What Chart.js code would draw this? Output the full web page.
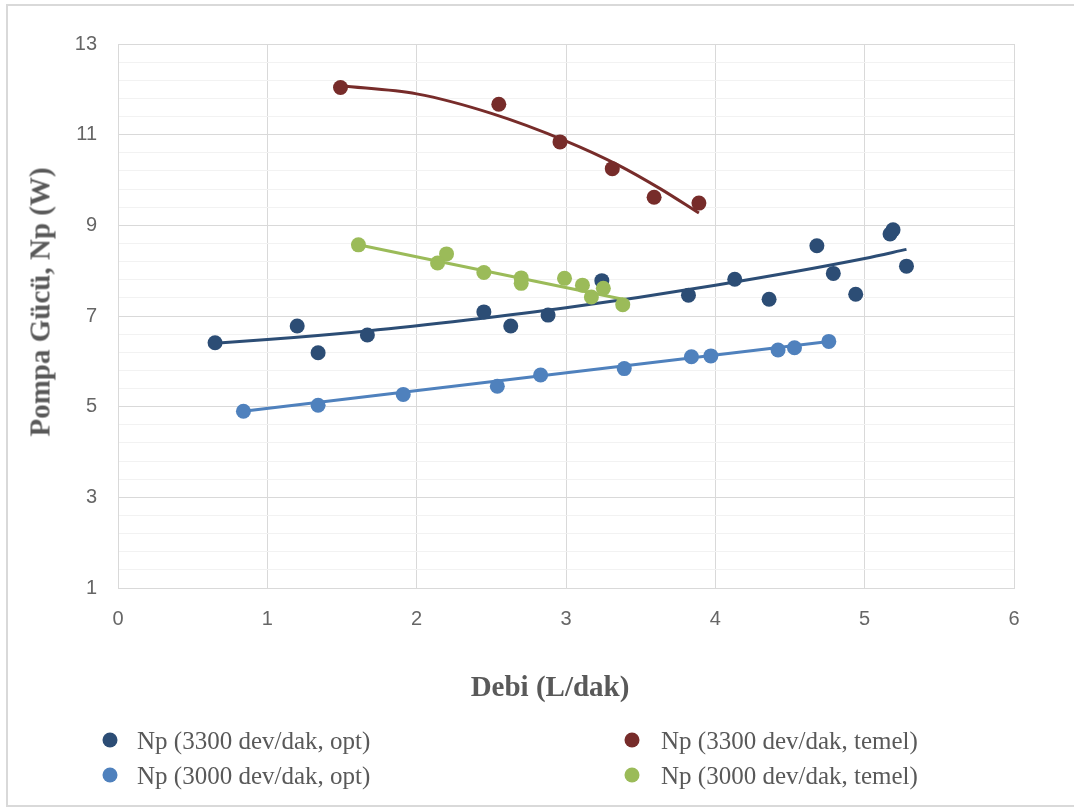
<!DOCTYPE html>
<html>
<head>
<meta charset="utf-8">
<script src="https://cdn.jsdelivr.net/npm/chart.js@4"></script>
<style>
  html, body { margin: 0; padding: 0; background: #ffffff; }
  #wrap { position: relative; width: 1074px; height: 808px; overflow: hidden; background: #ffffff; }
  #frame { position: absolute; left: 6px; top: 4px; width: 1100px; height: 803px; box-sizing: border-box; border: 2px solid #d9d9d9; }
  #c { position: absolute; left: 0; top: 0; }
  .title { position: absolute; font-family: "Liberation Serif", "Times New Roman", serif; font-weight: bold; font-size: 29px; color: #595959; white-space: nowrap; line-height: 1; }
  #ytitle { left: 40px; top: 302px; transform: translate(-50%, -50%) rotate(-90deg); }
  #xtitle { left: 550px; top: 686px; transform: translate(-50%, -50%); }
  .leg { position: absolute; font-family: "Liberation Serif", "Times New Roman", serif; font-size: 25px; color: #595959; white-space: nowrap; line-height: 1; transform: translateY(-50%); }
  .dot { position: absolute; width: 15px; height: 15px; border-radius: 50%; transform: translate(-50%, -50%); }
</style>
</head>
<body>
<div id="wrap">
  <div id="frame"></div>
  <canvas id="c" width="1074" height="808"></canvas>
  <div class="title" id="ytitle">Pompa Gücü, Np (W)</div>
  <div class="title" id="xtitle">Debi (L/dak)</div>
  <div id="legend"></div>
</div>
<script>
// ---- data ----
const xTicks = [0, 1, 2, 3, 4, 5, 6];
const yTicks = [1, 3, 5, 7, 9, 11, 13];

const seriesNames = [
  "Np (3300 dev/dak, opt)",
  "Np (3300 dev/dak, temel)",
  "Np (3000 dev/dak, opt)",
  "Np (3000 dev/dak, temel)"
];
const seriesColors = ["#2C4D75", "#772C2A", "#4F81BD", "#9BBB59"];

// Np (3300 dev/dak, opt)
const opt3300X = [0.65, 1.20, 1.34, 1.67, 2.45, 2.63, 2.88, 3.24, 3.82, 4.13, 4.36, 4.68, 4.79, 4.94, 5.17, 5.19, 5.28];
const opt3300Y = [6.41, 6.78, 6.19, 6.58, 7.09, 6.78, 7.02, 7.78, 7.46, 7.81, 7.37, 8.55, 7.94, 7.48, 8.81, 8.90, 8.10];
const opt3300TrendX = [0.65, 1.0, 1.67, 2.34, 3.0, 4.0, 5.0, 5.28];
const opt3300TrendY = [6.40, 6.48, 6.67, 6.91, 7.18, 7.68, 8.27, 8.47];

// Np (3300 dev/dak, temel)
const temel3300X = [1.49, 2.55, 2.96, 3.31, 3.59, 3.89];
const temel3300Y = [12.04, 11.67, 10.84, 10.25, 9.62, 9.49];
const temel3300TrendX = [1.49, 2.0, 2.5, 3.0, 3.35, 3.63, 3.89];
const temel3300TrendY = [12.08, 11.90, 11.47, 10.86, 10.33, 9.81, 9.27];

// Np (3000 dev/dak, opt)
const opt3000X = [0.84, 1.34, 1.91, 2.54, 2.83, 3.39, 3.84, 3.97, 4.42, 4.53, 4.76];
const opt3000Y = [4.90, 5.03, 5.27, 5.45, 5.70, 5.84, 6.10, 6.12, 6.25, 6.30, 6.44];
const opt3000TrendX = [0.84, 4.76];
const opt3000TrendY = [4.90, 6.44];

// Np (3000 dev/dak, temel)
const temel3000X = [1.61, 2.20, 2.14, 2.45, 2.70, 2.70, 2.99, 3.11, 3.17, 3.25, 3.38];
const temel3000Y = [8.57, 8.37, 8.17, 7.96, 7.84, 7.72, 7.83, 7.68, 7.42, 7.61, 7.25];
const temel3000TrendX = [1.61, 3.38];
const temel3000TrendY = [8.57, 7.37];

// ---- helpers ----
function pts(xs, ys) { return xs.map((x, i) => ({ x: x, y: ys[i] })); }
function isMajorY(v) { return yTicks.some(t => Math.abs(t - v) < 1e-6); }

function scatterSet(label, xs, ys, color, order) {
  return {
    type: 'scatter', label: label, data: pts(xs, ys), order: order,
    backgroundColor: color, borderColor: color, borderWidth: 0,
    pointRadius: 7.5, pointHoverRadius: 7.5, showLine: false
  };
}
function trendSet(label, xs, ys, color, order) {
  return {
    type: 'line', label: label, data: pts(xs, ys), order: order,
    borderColor: color, backgroundColor: color, borderWidth: 3,
    pointRadius: 0, pointHoverRadius: 0, fill: false,
    cubicInterpolationMode: 'monotone', tension: 0.4, borderCapStyle: 'butt'
  };
}

const datasets = [
  scatterSet(seriesNames[3], temel3000X, temel3000Y, seriesColors[3], 0),
  trendSet(seriesNames[3] + ' trend', temel3000TrendX, temel3000TrendY, seriesColors[3], 1),
  scatterSet(seriesNames[1], temel3300X, temel3300Y, seriesColors[1], 2),
  trendSet(seriesNames[1] + ' trend', temel3300TrendX, temel3300TrendY, seriesColors[1], 3),
  scatterSet(seriesNames[2], opt3000X, opt3000Y, seriesColors[2], 4),
  trendSet(seriesNames[2] + ' trend', opt3000TrendX, opt3000TrendY, seriesColors[2], 5),
  scatterSet(seriesNames[0], opt3300X, opt3300Y, seriesColors[0], 6),
  trendSet(seriesNames[0] + ' trend', opt3300TrendX, opt3300TrendY, seriesColors[0], 7)
];

const tickFont = { family: '"Liberation Sans", Arial, sans-serif', size: 20 };

new Chart(document.getElementById('c'), {
  type: 'scatter',
  data: { datasets: datasets },
  options: {
    responsive: false,
    animation: false,
    events: [],
    layout: { padding: { left: 0, top: 44, right: 60, bottom: 0 } },
    plugins: { legend: { display: false }, tooltip: { enabled: false }, title: { display: false } },
    scales: {
      x: {
        type: 'linear', position: 'bottom',
        min: xTicks[0], max: xTicks[xTicks.length - 1],
        afterBuildTicks: (s) => { s.ticks = xTicks.map(v => ({ value: v })); },
        afterFit: (s) => { s.height = 220; },
        ticks: { font: tickFont, color: '#666666', padding: 19, autoSkip: false,
                 callback: (v) => String(v) },
        grid: { color: '#d9d9d9', lineWidth: 1, drawTicks: false },
        border: { display: true, color: '#d9d9d9', width: 1 }
      },
      y: {
        type: 'linear', position: 'left',
        min: yTicks[0], max: yTicks[yTicks.length - 1],
        ticks: { stepSize: 0.4, font: tickFont, color: '#666666', padding: 21, autoSkip: false,
                 callback: (v) => isMajorY(v) ? String(Math.round(v)) : '' },
        afterFit: (s) => { s.width = 118; },
        grid: {
          drawTicks: false, lineWidth: 1,
          color: (ctx) => (ctx.tick && isMajorY(ctx.tick.value)) ? '#d9d9d9' : '#f2f2f2'
        },
        border: { display: true, color: '#d9d9d9', width: 1 }
      }
    }
  }
});

// ---- legend (2 x 2, row-major as in the reference) ----
const legendOrder = [0, 1, 2, 3];
const legendCols = [{ dot: 110, text: 137 }, { dot: 632, text: 661 }];
const legendRows = [740, 775];
const legendEl = document.getElementById('legend');
legendOrder.forEach((si, k) => {
  const col = legendCols[k % 2];
  const rowY = legendRows[Math.floor(k / 2)];
  const d = document.createElement('div');
  d.className = 'dot';
  d.style.left = col.dot + 'px';
  d.style.top = rowY + 'px';
  d.style.background = seriesColors[si];
  legendEl.appendChild(d);
  const t = document.createElement('div');
  t.className = 'leg';
  t.style.left = col.text + 'px';
  t.style.top = rowY + 'px';
  t.textContent = seriesNames[si];
  legendEl.appendChild(t);
});
</script>
</body>
</html>
